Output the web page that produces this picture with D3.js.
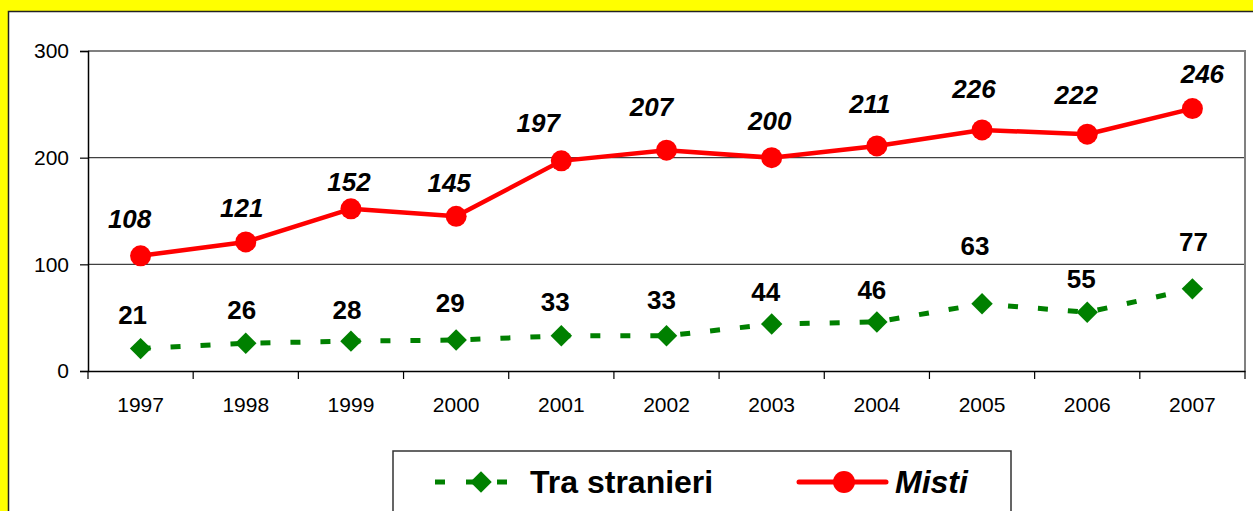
<!DOCTYPE html>
<html>
<head>
<meta charset="utf-8">
<script src="https://cdn.jsdelivr.net/npm/d3@7"></script>
<style>
  html, body { margin: 0; padding: 0; background: #FFFF00; }
  svg { display: block; font-family: "Liberation Sans", Arial, sans-serif; }
</style>
</head>
<body>
<svg id="chart" width="1253" height="511"></svg>
<script>
// ---- data ----
const years = ["1997","1998","1999","2000","2001","2002","2003","2004","2005","2006","2007"];
const straValues = [21, 26, 28, 29, 33, 33, 44, 46, 63, 55, 77];
const mistiValues = [108, 121, 152, 145, 197, 207, 200, 211, 226, 222, 246];
const yTicks = [0, 100, 200, 300];
const seriesNames = ["Tra stranieri", "Misti"];
// label nudges (px, relative to marker): [dx, baseline dy]
const straLabelNudge = [[-8,-25],[-4,-24],[-4,-22],[-6,-28],[-6,-25],[-5,-27],[-6,-23],[-5,-23],[-7,-49],[-6,-24],[1,-38]];
const mistiLabelNudge = [[-11,-28],[-4,-25],[-2,-18],[-7,-24],[-23,-29],[-15,-34],[-2,-28],[-7,-33],[-8,-32],[-11,-30],[10,-26]];

const svg = d3.select("#chart");
const plot = { left: 88, right: 1245, top: 51, bottom: 371 };

// outer white frame
svg.append("rect").attr("x", 8.5).attr("y", 11.5).attr("width", 1260).attr("height", 520)
  .attr("fill", "#fff").attr("stroke", "#222").attr("stroke-width", 1.5);

const x = d3.scaleBand().domain(years).range([plot.left, plot.right]).padding(0);
const y = d3.scaleLinear().domain([0, 300]).range([plot.bottom, plot.top]);
const cx = d => x(d) + x.bandwidth() / 2;

// gridlines
svg.append("g").selectAll("line").data(yTicks.filter(t => t > 0 && t < 300)).join("line")
  .attr("x1", plot.left).attr("x2", plot.right)
  .attr("y1", d => y(d)).attr("y2", d => y(d))
  .attr("stroke", "#404040").attr("stroke-width", 1.3);

// plot border top/right (gray)
svg.append("path")
  .attr("d", `M${plot.left},${y(300)}H${plot.right}V${plot.bottom}`)
  .attr("fill", "none").attr("stroke", "#808080").attr("stroke-width", 2);

// y axis
const yAxis = svg.append("g").attr("transform", `translate(${plot.left},0)`)
  .call(d3.axisLeft(y).tickValues(yTicks).tickSize(8).tickPadding(11).tickFormat(d3.format("d")));
yAxis.select(".domain").attr("stroke", "#000").attr("stroke-width", 1.5);
yAxis.selectAll(".tick line").attr("stroke", "#000").attr("stroke-width", 1.2);
yAxis.selectAll("text").attr("font-size", 21).attr("fill", "#000")
  .attr("font-family", "'Liberation Sans', Arial, sans-serif");

// x axis
const xAxis = svg.append("g").attr("transform", `translate(0,${plot.bottom})`)
  .call(d3.axisBottom(x).tickSize(0).tickPadding(0));
xAxis.select(".domain").attr("stroke", "#000").attr("stroke-width", 1.5);
xAxis.selectAll("text").attr("font-size", 21).attr("fill", "#000").attr("dy", null).attr("y", 41)
  .attr("font-family", "'Liberation Sans', Arial, sans-serif");
// x ticks between categories
const edges = years.map(d => x(d)).concat([plot.right]);
svg.append("g").selectAll("line").data(edges).join("line")
  .attr("x1", d => d).attr("x2", d => d)
  .attr("y1", plot.bottom).attr("y2", plot.bottom + 8)
  .attr("stroke", "#000").attr("stroke-width", 1.2);

// series: Tra stranieri (green dashed, diamonds)
const green = "#008000", red = "#FF0000";
const line = d3.line().x(d => cx(d[0])).y(d => y(d[1]));
const straPts = years.map((d, i) => [d, straValues[i]]);
const mistiPts = years.map((d, i) => [d, mistiValues[i]]);

svg.append("path").datum(straPts).attr("d", line)
  .attr("fill", "none").attr("stroke", green).attr("stroke-width", 5)
  .attr("stroke-dasharray", "10,20");
const diamond = d3.symbol().type(d3.symbolSquare).size(230);
svg.append("g").selectAll("path").data(straPts).join("path")
  .attr("d", diamond)
  .attr("transform", d => `translate(${cx(d[0])},${y(d[1])}) rotate(45)`)
  .attr("fill", green);

// series: Misti (red solid, circles)
svg.append("path").datum(mistiPts).attr("d", line)
  .attr("fill", "none").attr("stroke", red).attr("stroke-width", 4.5).attr("stroke-linejoin", "round");
svg.append("g").selectAll("circle").data(mistiPts).join("circle")
  .attr("cx", d => cx(d[0])).attr("cy", d => y(d[1])).attr("r", 10.5)
  .attr("fill", red);

// data labels
svg.append("g").selectAll("text").data(straPts).join("text")
  .attr("x", (d, i) => cx(d[0]) + straLabelNudge[i][0])
  .attr("y", (d, i) => y(d[1]) + straLabelNudge[i][1])
  .attr("text-anchor", "middle").attr("font-size", 26).attr("font-weight", "bold")
  .attr("fill", "#000").text(d => d[1]);
svg.append("g").selectAll("text").data(mistiPts).join("text")
  .attr("x", (d, i) => cx(d[0]) + mistiLabelNudge[i][0])
  .attr("y", (d, i) => y(d[1]) + mistiLabelNudge[i][1])
  .attr("text-anchor", "middle").attr("font-size", 26).attr("font-weight", "bold")
  .attr("font-style", "italic").attr("fill", "#000").text(d => d[1]);

// legend
const lg = svg.append("g");
lg.append("rect").attr("x", 393).attr("y", 451).attr("width", 618).attr("height", 100)
  .attr("fill", "#fff").attr("stroke", "#333").attr("stroke-width", 1.5);
const ly = 482;
lg.append("line").attr("x1", 435).attr("x2", 507).attr("y1", ly).attr("y2", ly)
  .attr("stroke", green).attr("stroke-width", 5).attr("stroke-dasharray", "10,21");
lg.append("path").attr("d", diamond)
  .attr("transform", `translate(481,${ly}) rotate(45)`).attr("fill", green);
lg.append("text").attr("x", 530).attr("y", 493).attr("font-size", 32).attr("font-weight", "bold")
  .attr("fill", "#000").text(seriesNames[0]);
lg.append("line").attr("x1", 799).attr("x2", 886).attr("y1", ly).attr("y2", ly)
  .attr("stroke", red).attr("stroke-width", 5).attr("stroke-linecap", "round");
lg.append("circle").attr("cx", 844).attr("cy", ly).attr("r", 11).attr("fill", red);
lg.append("text").attr("x", 895).attr("y", 493).attr("font-size", 32).attr("font-weight", "bold")
  .attr("font-style", "italic").attr("fill", "#000").text(seriesNames[1]);
</script>
</body>
</html>
